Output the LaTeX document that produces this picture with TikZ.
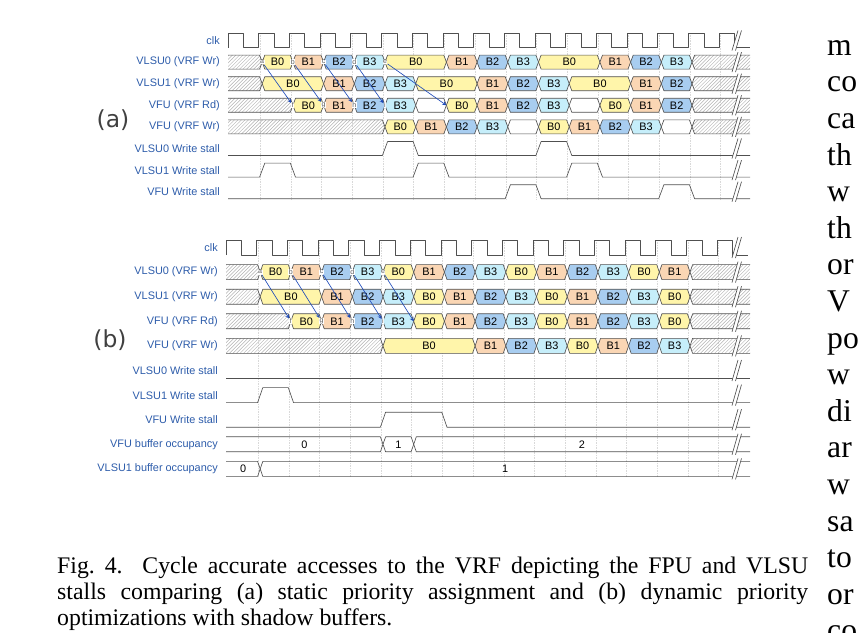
\documentclass[tikz,border=0pt]{standalone}
\usepackage{fontspec}
\setmainfont{Liberation Serif}
\setsansfont{Liberation Sans}
\newfontfamily\panelfont{DejaVu Sans}
\usepackage{tikz}
\usetikzlibrary{arrows,patterns}

\definecolor{labblue}{RGB}{45,92,170}
\definecolor{arrblue}{RGB}{30,75,185}
\definecolor{wirecol}{RGB}{80,80,80}
\definecolor{bzero}{RGB}{255,245,170}
\definecolor{bone}{RGB}{250,214,180}
\definecolor{btwo}{RGB}{168,205,240}
\definecolor{bthree}{RGB}{198,238,250}

\newcommand{\cyc}{30.7}
\newcommand{\slope}{2.6}
\newcommand{\tailend}{750}

\tikzset{
  wire/.style={draw=wirecol, line width=0.55pt, line join=round},
  B0/.style={fill=bzero}, B1/.style={fill=bone}, B2/.style={fill=btwo}, B3/.style={fill=bthree},
  lbl/.style={anchor=east, inner sep=0pt, text=labblue, font=\sffamily\fontsize{9.3}{10}\selectfont},
  val/.style={inner sep=0pt, font=\sffamily\fontsize{9.3}{10}\selectfont},
  tag/.style={fill=white, inner sep=0.4pt, text=gray!70!black, font=\sffamily\fontsize{6}{6}\selectfont},
  arr/.style={->, draw=arrblue, line width=0.55pt},
  gridln/.style={draw=gray!30, densely dotted, line width=0.4pt},
  hatch/.style={pattern=north east lines, pattern color=gray!60},
  panel/.style={inner sep=0pt, text=black!75, font=\panelfont\fontsize{20}{22}\selectfont},
  body/.style={anchor=base west, inner sep=0pt, font=\fontsize{27}{30}\selectfont},
}

% data box: origin, row y, from cycle, to cycle, kind, row name
\newcommand{\dbox}[6]{%
  \filldraw[wire,#5] ({#1+#3*\cyc},#2) -- ({#1+#3*\cyc+\slope},{#2-\hh}) -- ({#1+#4*\cyc-\slope},{#2-\hh})
    -- ({#1+#4*\cyc},#2) -- ({#1+#4*\cyc-\slope},{#2+\hh}) -- ({#1+#3*\cyc+\slope},{#2+\hh}) -- cycle;
  \node[val] (#6-#3) at ({#1+(#3+#4)/2*\cyc},#2) {#5};
}
% empty box
\newcommand{\ebox}[4]{%
  \filldraw[wire,fill=white] ({#1+#3*\cyc},#2) -- ({#1+#3*\cyc+\slope},{#2-\hh}) -- ({#1+#4*\cyc-\slope},{#2-\hh})
    -- ({#1+#4*\cyc},#2) -- ({#1+#4*\cyc-\slope},{#2+\hh}) -- ({#1+#3*\cyc+\slope},{#2+\hh}) -- cycle;
}
% hatched start: clock origin, origin, row y, to cycle
\newcommand{\xhead}[4]{%
  \fill[hatch] (#1,{#3-\hh}) -- ({#2+#4*\cyc-\slope},{#3-\hh}) -- ({#2+#4*\cyc},#3)
    -- ({#2+#4*\cyc-\slope},{#3+\hh}) -- (#1,{#3+\hh}) -- cycle;
  \draw[wire] (#1,{#3-\hh}) -- ({#2+#4*\cyc-\slope},{#3-\hh}) -- ({#2+#4*\cyc},#3)
    -- ({#2+#4*\cyc-\slope},{#3+\hh}) -- (#1,{#3+\hh});
}
% hatched end: origin, row y, from cycle
\newcommand{\xtail}[3]{%
  \fill[hatch] ({#1+#3*\cyc},#2) -- ({#1+#3*\cyc+\slope},{#2-\hh}) -- (\tailend,{#2-\hh})
    -- (\tailend,{#2+\hh}) -- ({#1+#3*\cyc+\slope},{#2+\hh}) -- cycle;
  \draw[wire] (\tailend,{#2-\hh}) -- ({#1+#3*\cyc+\slope},{#2-\hh}) -- ({#1+#3*\cyc},#2)
    -- ({#1+#3*\cyc+\slope},{#2+\hh}) -- (\tailend,{#2+\hh});
}
% value start and value end (buffer rows)
\newcommand{\vhead}[6]{%
  \draw[wire] (#1,{#3-\hh}) -- ({#2+#4*\cyc-\slope},{#3-\hh}) -- ({#2+#4*\cyc},#3)
    -- ({#2+#4*\cyc-\slope},{#3+\hh}) -- (#1,{#3+\hh});
  \node[val] (#6) at ({(#1+#2+#4*\cyc)/2},#3) {#5};
}
\newcommand{\vtail}[5]{%
  \draw[wire] (\tailend,{#2-\hh}) -- ({#1+#3*\cyc+\slope},{#2-\hh}) -- ({#1+#3*\cyc},#2)
    -- ({#1+#3*\cyc+\slope},{#2+\hh}) -- (\tailend,{#2+\hh});
  \node[val] (#5) at ({(#1+#3*\cyc+\tailend)/2},#2) {#4};
}
% clock: origin, row y
\newcommand{\clkwave}[2]{%
  \draw[wire] (#1,{#2+\hh}) \foreach \k in {0,...,16} { -- ({#1+\k*\cyc},{#2-\hh})
    -- ({#1+(\k+0.5)*\cyc},{#2-\hh}) -- ({#1+(\k+0.5)*\cyc},{#2+\hh}) -- ({#1+(\k+1)*\cyc},{#2+\hh}) };
}
% stall: clock origin, origin, row y, high cycles
\newcommand{\stall}[4]{%
  \draw[wire] (#1,{#3+\hh}) \foreach \k/\m in {#4} { -- ({#2+\k*\cyc-\slope},{#3+\hh})
    -- ({#2+\k*\cyc+\slope},{#3-\hh}) -- ({#2+\m*\cyc-\slope},{#3-\hh}) -- ({#2+\m*\cyc+\slope},{#3+\hh}) }
    -- (\tailend,{#3+\hh});
}
% break mark
\newcommand{\brk}[1]{%
  \fill[white] (732,{#1+\hh+3}) -- (738,{#1-\hh-3}) -- (741.5,{#1-\hh-3}) -- (735.5,{#1+\hh+3}) -- cycle;
  \draw[wire] (732,{#1+\hh+3}) -- (738,{#1-\hh-3}) (735.5,{#1+\hh+3}) -- (741.5,{#1-\hh-3});
}

\begin{document}
\begin{tikzpicture}[x=0.03cm,y=-0.03cm,>=stealth]
\useasboundingbox (0,0) rectangle (861,632);

%% (a) static priority
\def\hh{7}
\foreach \k in {1,...,16} \draw[gridln] ({229.5+\k*\cyc},33) -- ({229.5+\k*\cyc},199);
\node[panel] (pa) at (113,120) {(a)};
\node[lbl] (clka) at (220,40.5) {clk};
\node[lbl] (l1a) at (220,62.1) {VLSU0 (VRF Wr)};
\node[lbl] (l2a) at (220,83.7) {VLSU1 (VRF Wr)};
\node[lbl] (l3a) at (220,105.3) {VFU (VRF Rd)};
\node[lbl] (l4a) at (220,126.9) {VFU (VRF Wr)};
\node[lbl] (l5a) at (220,148.5) {VLSU0 Write stall};
\node[lbl] (l6a) at (220,170.1) {VLSU1 Write stall};
\node[lbl] (l7a) at (220,191.7) {VFU Write stall};

\clkwave{228}{40.5}
\brk{40.5}

\xhead{228}{231.5}{62.1}{1}
\foreach \k/\m/\bk in {1/2/B0,2/3/B1,3/4/B2,4/5/B3,5/7/B0,7/8/B1,8/9/B2,9/10/B3,10/12/B0,12/13/B1,13/14/B2,14/15/B3}
  {\dbox{231.5}{62.1}{\k}{\m}{\bk}{r1a}}
\xtail{231.5}{62.1}{15}
\brk{62.1}

\xhead{228}{231.5}{83.7}{1}
\foreach \k/\m/\bk in {1/3/B0,3/4/B1,4/5/B2,5/6/B3,6/8/B0,8/9/B1,9/10/B2,10/11/B3,11/13/B0,13/14/B1,14/15/B2}
  {\dbox{231.5}{83.7}{\k}{\m}{\bk}{r2a}}
\xtail{231.5}{83.7}{15}
\brk{83.7}

\xhead{228}{231.5}{105.3}{2}
\foreach \k/\m/\bk in {2/3/B0,3/4/B1,4/5/B2,5/6/B3,7/8/B0,8/9/B1,9/10/B2,10/11/B3,12/13/B0,13/14/B1,14/15/B2}
  {\dbox{231.5}{105.3}{\k}{\m}{\bk}{r3a}}
\ebox{231.5}{105.3}{6}{7}
\ebox{231.5}{105.3}{11}{12}
\xtail{231.5}{105.3}{15}
\brk{105.3}

\xhead{228}{231.5}{126.9}{5}
\foreach \k/\m/\bk in {5/6/B0,6/7/B1,7/8/B2,8/9/B3,10/11/B0,11/12/B1,12/13/B2,13/14/B3}
  {\dbox{231.5}{126.9}{\k}{\m}{\bk}{r4a}}
\ebox{231.5}{126.9}{9}{10}
\ebox{231.5}{126.9}{14}{15}
\xtail{231.5}{126.9}{15}
\brk{126.9}

\stall{228}{231.5}{148.5}{5/6,10/11}
\brk{148.5}
\stall{228}{231.5}{170.1}{1/2,6/7,11/12}
\brk{170.1}
\stall{228}{231.5}{191.7}{9/10,14/15}
\brk{191.7}

\foreach \n/\k in {a/1,b/2,c/3,d/4,e/5}
  \node[tag] (\n1) at ({231.5+\k*\cyc},62.1) {\n};
\foreach \n/\k in {f/2,g/3,h/4,i/5}
  \node[tag] (\n1) at ({231.5+\k*\cyc},105.3) {\n};
\coordinate (j1) at ({231.5+7*\cyc},105.3);
\draw[arr] (a1) -- (f1);
\draw[arr] (b1) -- (g1);
\draw[arr] (c1) -- (h1);
\draw[arr] (d1) -- (i1);
\draw[arr] (e1) -- (j1);

%% (b) dynamic priority
\def\hh{7.5}
\foreach \k in {1,...,16} \draw[gridln] ({227.5+\k*\cyc},240) -- ({227.5+\k*\cyc},477);
\node[panel] (pb) at (110,340) {(b)};
\node[lbl] (clkb) at (218,247.5) {clk};
\node[lbl] (l1b) at (218,272.1) {VLSU0 (VRF Wr)};
\node[lbl] (l2b) at (218,296.7) {VLSU1 (VRF Wr)};
\node[lbl] (l3b) at (218,321.3) {VFU (VRF Rd)};
\node[lbl] (l4b) at (218,345.9) {VFU (VRF Wr)};
\node[lbl] (l5b) at (218,370.5) {VLSU0 Write stall};
\node[lbl] (l6b) at (218,395.1) {VLSU1 Write stall};
\node[lbl] (l7b) at (218,419.7) {VFU Write stall};
\node[lbl] (l8b) at (218,444.3) {VFU buffer occupancy};
\node[lbl] (l9b) at (218,468.9) {VLSU1 buffer occupancy};

\clkwave{226}{247.5}
\brk{247.5}

\xhead{226}{229.5}{272.1}{1}
\foreach \k/\m/\bk in {1/2/B0,2/3/B1,3/4/B2,4/5/B3,5/6/B0,6/7/B1,7/8/B2,8/9/B3,9/10/B0,10/11/B1,11/12/B2,12/13/B3,13/14/B0,14/15/B1}
  {\dbox{229.5}{272.1}{\k}{\m}{\bk}{r1b}}
\xtail{229.5}{272.1}{15}
\brk{272.1}

\xhead{226}{229.5}{296.7}{1}
\foreach \k/\m/\bk in {1/3/B0,3/4/B1,4/5/B2,5/6/B3,6/7/B0,7/8/B1,8/9/B2,9/10/B3,10/11/B0,11/12/B1,12/13/B2,13/14/B3,14/15/B0}
  {\dbox{229.5}{296.7}{\k}{\m}{\bk}{r2b}}
\xtail{229.5}{296.7}{15}
\brk{296.7}

\xhead{226}{229.5}{321.3}{2}
\foreach \k/\m/\bk in {2/3/B0,3/4/B1,4/5/B2,5/6/B3,6/7/B0,7/8/B1,8/9/B2,9/10/B3,10/11/B0,11/12/B1,12/13/B2,13/14/B3,14/15/B0}
  {\dbox{229.5}{321.3}{\k}{\m}{\bk}{r3b}}
\xtail{229.5}{321.3}{15}
\brk{321.3}

\xhead{226}{229.5}{345.9}{5}
\foreach \k/\m/\bk in {5/8/B0,8/9/B1,9/10/B2,10/11/B3,11/12/B0,12/13/B1,13/14/B2,14/15/B3}
  {\dbox{229.5}{345.9}{\k}{\m}{\bk}{r4b}}
\xtail{229.5}{345.9}{15}
\brk{345.9}

\draw[wire] (226,378) -- (\tailend,378);
\brk{370.5}
\stall{226}{229.5}{395.1}{1/2}
\brk{395.1}
\stall{226}{229.5}{419.7}{5/7}
\brk{419.7}

\vhead{226}{229.5}{444.3}{5}{0}{o0}
\ebox{229.5}{444.3}{5}{6}
\node[val] (o1) at ({229.5+5.5*\cyc},444.3) {1};
\vtail{229.5}{444.3}{6}{2}{o2}
\brk{444.3}
\vhead{226}{229.5}{468.9}{1}{0}{q0}
\vtail{229.5}{468.9}{1}{1}{q1}
\brk{468.9}

\foreach \n/\k in {a/1,b/2,c/3,d/4,e/5}
  \node[tag] (\n2) at ({229.5+\k*\cyc},272.1) {\n};
\foreach \n/\k in {f/2,g/3,h/4,i/5}
  \node[tag] (\n2) at ({229.5+\k*\cyc},321.3) {\n};
\coordinate (j2) at ({229.5+6*\cyc},321.3);
\draw[arr] (a2) -- (f2);
\draw[arr] (b2) -- (g2);
\draw[arr] (c2) -- (h2);
\draw[arr] (d2) -- (i2);
\draw[arr] (e2) -- (j2);

%% caption and the cut column beside it
\node[anchor=north west, inner sep=0pt, text width=22.53cm, align=justify,
  font=\fontsize{20.3}{22.2}\selectfont] (cap) at (57,557)
  {Fig.~4.\ \ Cycle accurate accesses to the VRF depicting the FPU and VLSU\linebreak
   stalls comparing (a) static priority assignment and (b) dynamic priority\linebreak
   optimizations with shadow buffers.};
\foreach \w [count=\i from 0] in {m,co,ca,th,w,th,or,V,po,w,di,ar,w,sa,to,or,co}
  \node[body] (col\i) at (827,{55.3+36.6*\i}) {\w};
\end{tikzpicture}
\end{document}
